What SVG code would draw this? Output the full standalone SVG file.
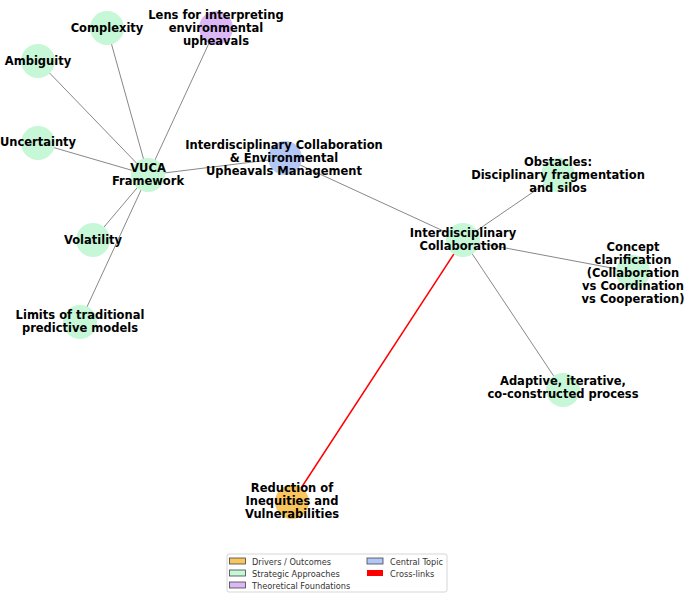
<svg xmlns="http://www.w3.org/2000/svg" width="685" height="595" viewBox="0 0 685 595">
<style>
.e{stroke:#888;stroke-width:1;fill:none}
.x{stroke:#ff0000;stroke-width:1.5;fill:none}
.g{fill:#c6f7d6}
.o{fill:#f9c55e}
.b{fill:#b3c7f7}
.p{fill:#dbb8f5}
text{font-family:"DejaVu Sans",sans-serif;font-weight:bold;font-size:11.5px;fill:#000;text-anchor:middle}
.l{font-weight:normal;font-size:8.2px;text-anchor:start;fill:#333}
</style>
<rect width="685" height="595" fill="#fff"/>
<g id="edges">
<line class="e" x1="148" y1="175" x2="107" y2="28"/>
<line class="e" x1="148" y1="175" x2="38" y2="61"/>
<line class="e" x1="148" y1="175" x2="38" y2="143"/>
<line class="e" x1="148" y1="175" x2="93" y2="240"/>
<line class="e" x1="148" y1="175" x2="80" y2="322"/>
<line class="e" x1="148" y1="175" x2="216" y2="28"/>
<line class="e" x1="148" y1="175" x2="285" y2="158"/>
<line class="e" x1="285" y1="158" x2="463" y2="240"/>
<line class="e" x1="463" y1="240" x2="558" y2="175"/>
<line class="e" x1="463" y1="240" x2="633" y2="272"/>
<line class="e" x1="463" y1="240" x2="563" y2="390"/>
<line class="x" x1="463" y1="240" x2="292" y2="502"/>
</g>
<g id="complexity"><circle class="g" cx="107" cy="28" r="17"/><text x="107" y="32">Complexity</text></g>
<g id="lens"><circle class="p" cx="216" cy="28" r="17"/><text x="216" y="19">Lens for interpreting</text><text x="216" y="32">environmental</text><text x="216" y="45">upheavals</text></g>
<g id="ambiguity"><circle class="g" cx="38" cy="61" r="17"/><text x="38" y="65">Ambiguity</text></g>
<g id="uncertainty"><circle class="g" cx="38" cy="143" r="17"/><text x="38" y="146">Uncertainty</text></g>
<g id="vuca"><circle class="g" cx="148" cy="175" r="17"/><text x="148" y="172">VUCA</text><text x="148" y="185">Framework</text></g>
<g id="central"><circle class="b" cx="285" cy="158" r="17"/><text x="284" y="149">Interdisciplinary Collaboration</text><text x="284" y="162">&amp; Environmental</text><text x="284" y="175">Upheavals Management</text></g>
<g id="volatility"><circle class="g" cx="93" cy="240" r="17"/><text x="93" y="244">Volatility</text></g>
<g id="limits"><circle class="g" cx="80" cy="322" r="17"/><text x="80" y="319">Limits of traditional</text><text x="80" y="332">predictive models</text></g>
<g id="ic"><circle class="g" cx="463" cy="240" r="17"/><text x="463" y="237">Interdisciplinary</text><text x="463" y="250">Collaboration</text></g>
<g id="obstacles"><circle class="g" cx="558" cy="175" r="17"/><text x="558" y="166">Obstacles:</text><text x="558" y="179">Disciplinary fragmentation</text><text x="558" y="192">and silos</text></g>
<g id="concept"><circle class="g" cx="633" cy="272" r="17"/><text x="633" y="251">Concept</text><text x="633" y="264">clarification</text><text x="633" y="277">(Collaboration</text><text x="633" y="290">vs Coordination</text><text x="633" y="303">vs Cooperation)</text></g>
<g id="adaptive"><circle class="g" cx="563" cy="390" r="17"/><text x="563" y="385">Adaptive, iterative,</text><text x="563" y="398">co-constructed process</text></g>
<g id="reduction"><circle class="o" cx="292" cy="502" r="17"/><text x="292" y="492">Reduction of</text><text x="292" y="505">Inequities and</text><text x="292" y="518">Vulnerabilities</text></g>
<g id="legend">
<rect x="227" y="554" width="220" height="38" fill="#fff" stroke="#ccc" stroke-width="0.8" rx="2"/>
<rect x="229.5" y="558" width="16" height="6" fill="#f9c55e" stroke="#444" stroke-width="0.8"/>
<text class="l" x="252" y="565">Drivers / Outcomes</text>
<rect x="229.5" y="570" width="16" height="6" fill="#c6f7d6" stroke="#444" stroke-width="0.8"/>
<text class="l" x="252" y="577">Strategic Approaches</text>
<rect x="229.5" y="582" width="16" height="6" fill="#dbb8f5" stroke="#444" stroke-width="0.8"/>
<text class="l" x="252" y="589">Theoretical Foundations</text>
<rect x="367" y="558" width="16" height="6" fill="#b3c7f7" stroke="#444" stroke-width="0.8"/>
<text class="l" x="390" y="565">Central Topic</text>
<rect x="367" y="570" width="16" height="6" fill="#ff0000"/>
<text class="l" x="390" y="577">Cross-links</text>
</g>
</svg>
